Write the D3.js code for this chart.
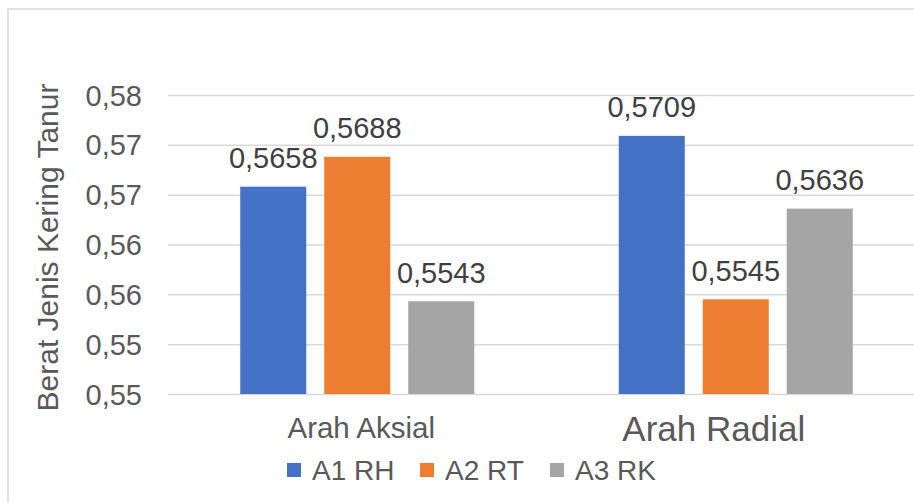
<!DOCTYPE html>
<html>
<head>
<meta charset="utf-8">
<script src="https://cdn.jsdelivr.net/npm/d3@7"></script>
<style>
  html, body { margin: 0; padding: 0; background: #fff; }
  svg { display: block; font-family: "Liberation Sans", Arial, sans-serif; }
</style>
</head>
<body>
<svg id="chart" width="914" height="503"></svg>
<script>
const categories = ["Arah Aksial", "Arah Radial"];
const seriesNames = ["A1 RH", "A2 RT", "A3 RK"];
const seriesValues = [
  [0.5658, 0.5709],
  [0.5688, 0.5545],
  [0.5543, 0.5636]
];
const valueLabels = [
  ["0,5658", "0,5709"],
  ["0,5688", "0,5545"],
  ["0,5543", "0,5636"]
];
const tickValues = [0.545, 0.55, 0.555, 0.56, 0.565, 0.57, 0.575];
const tickLabels = ["0,55", "0,55", "0,56", "0,56", "0,57", "0,57", "0,58"];
const yTitle = "Berat Jenis Kering Tanur";

const colors = ["#4472C4", "#ED7D31", "#A5A5A5"];
const textColor = "#595959";
const gridColor = "#D9D9D9";

const svg = d3.select("#chart");

// chart border
svg.append("rect")
  .attr("x", 8).attr("y", 9).attr("width", 1000).attr("height", 1000)
  .attr("fill", "none").attr("stroke", gridColor).attr("stroke-width", 1.5);

const plotLeft = 168, plotRight = 925;
const y = d3.scaleLinear().domain([0.545, 0.575]).range([394, 95]);
const x0 = d3.scaleBand().domain(categories).range([plotLeft, plotRight]);
const x1 = d3.scaleBand().domain(seriesNames).range([0, x0.bandwidth()])
  .paddingInner(0.214).paddingOuter(0.86);

// gridlines + tick labels
const yAxis = d3.axisLeft(y).tickValues(tickValues)
  .tickSize(-(914 - plotLeft)).tickFormat((d, i) => tickLabels[i]);
const gAxis = svg.append("g").attr("transform", `translate(${plotLeft},0)`).call(yAxis);
gAxis.select(".domain").remove();
gAxis.selectAll(".tick line").attr("stroke", gridColor).attr("stroke-width", 1.5);
gAxis.selectAll(".tick text")
  .attr("x", -26).attr("dy", "0.35em")
  .attr("fill", textColor).style("font-size", "29px")
  .style("font-family", "'Liberation Sans', Arial, sans-serif");

// bars and data labels
seriesNames.forEach((s, si) => {
  categories.forEach((c, ci) => {
    const v = seriesValues[si][ci];
    svg.append("rect")
      .attr("x", x0(c) + x1(s))
      .attr("y", y(v))
      .attr("width", x1.bandwidth())
      .attr("height", y(0.545) - y(v))
      .attr("fill", colors[si]);
    svg.append("text")
      .attr("x", x0(c) + x1(s) + x1.bandwidth() / 2)
      .attr("y", y(v) - 18.5)
      .attr("text-anchor", "middle")
      .attr("fill", "#404040")
      .style("font-size", "29px")
      .text(valueLabels[si][ci]);
  });
});

// category labels
const catFont = [29.5, 35];
const catDx = [4, -22];
const catY = [438, 441];
categories.forEach((c, i) => {
  svg.append("text")
    .attr("x", x0(c) + x0.bandwidth() / 2 + catDx[i])
    .attr("y", catY[i])
    .attr("text-anchor", "middle")
    .attr("fill", textColor)
    .style("font-size", catFont[i] + "px")
    .text(c);
});

// y title
svg.append("text")
  .attr("transform", "translate(58,247.5) rotate(-90)")
  .attr("text-anchor", "middle")
  .attr("fill", textColor)
  .style("font-size", "30px")
  .text(yTitle);

// legend
const legendX = [287, 420, 550];
seriesNames.forEach((s, i) => {
  const g = svg.append("g").attr("transform", `translate(${legendX[i]},463)`);
  g.append("rect").attr("width", 14).attr("height", 14).attr("fill", colors[i]);
  g.append("text").attr("x", 25).attr("y", 17)
    .attr("fill", textColor).style("font-size", "28px").text(s);
});
</script>
</body>
</html>
